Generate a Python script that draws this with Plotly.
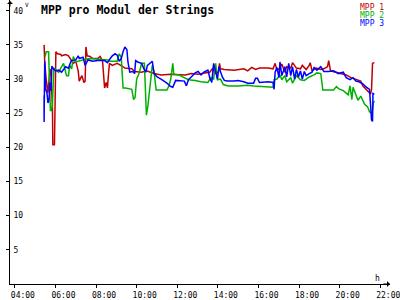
import plotly.graph_objects as go

# ---- data (time in decimal hours, values in V) ----
red_t = [5.44, 5.47, 5.54, 5.63, 5.73, 5.78, 5.85, 5.87, 5.95, 5.97, 6.02, 6.10, 6.26, 6.30, 6.50, 6.64, 6.74, 6.88,
         7.00, 7.12, 7.17, 7.30, 7.40, 7.46, 7.50, 7.56, 7.70, 7.84, 8.08, 8.20, 8.32, 8.38, 8.42, 8.50, 8.56, 8.62,
         8.66, 8.80, 9.04, 9.28, 9.42, 9.76, 9.90, 10.24, 10.48, 10.86, 11.20, 11.68, 12.07, 12.40, 12.69, 13.03,
         13.36, 13.60, 13.75, 13.84, 14.03, 14.08, 14.13, 14.32, 14.80, 15.09, 15.28, 15.47, 15.67, 15.86, 16.05,
         16.48, 16.72, 16.82, 16.91, 17.01, 17.15, 17.30, 17.39, 17.59, 17.68, 17.87, 18.07, 18.16, 18.35, 18.50,
         18.55, 18.64, 18.84, 19.07, 19.22, 19.40, 19.46, 19.55, 19.84, 20.08, 20.32, 20.56, 20.80, 21.04, 21.14,
         21.28, 21.47, 21.52, 21.57, 21.62, 21.71]
red_v = [35.0, 32.6, 30.0, 28.0, 31.5, 30.5, 26.0, 20.4, 20.4, 28.0, 34.0, 33.7, 33.6, 33.4, 33.6, 33.4, 33.0, 32.3,
         32.6, 31.2, 29.7, 30.5, 29.5, 29.7, 34.7, 33.4, 33.3, 33.0, 33.0, 33.3, 32.6, 30.0, 28.7, 29.5, 28.7, 31.0,
         32.3, 32.0, 32.3, 31.9, 31.6, 31.5, 31.1, 31.0, 31.2, 30.8, 30.6, 30.7, 30.7, 30.6, 30.8, 30.7,
         30.9, 31.0, 31.6, 30.8, 31.0, 32.3, 31.5, 31.4, 31.3, 31.4, 31.5, 31.2, 31.7, 31.4, 31.6,
         31.6, 31.5, 32.3, 31.3, 31.5, 32.2, 31.0, 31.8, 31.6, 32.4, 31.6, 31.5, 32.0, 31.4, 32.0,
         32.4, 31.2, 31.6, 31.4, 31.5, 31.8, 32.7, 31.2, 31.0, 30.8, 30.6, 30.2, 29.9, 29.7, 29.0,
         28.6, 28.0, 27.8, 28.5, 32.3, 32.4]

green_t = [5.49, 5.54, 5.66, 5.70, 5.75, 5.80, 5.85, 5.92, 6.02, 6.16, 6.26, 6.40, 6.50, 6.55, 6.64, 6.70, 6.80, 6.88,
           7.00, 7.12, 7.30, 7.46, 7.70, 8.08, 8.56, 8.70, 9.04, 9.14, 9.24, 9.33, 9.45, 9.76, 9.85, 9.92, 10.00,
           10.14, 10.24, 10.38, 10.43, 10.48, 10.55, 10.65, 10.77, 10.86, 10.96, 11.20, 11.49, 11.59, 11.68, 11.78,
           11.83, 12.07, 12.21, 12.55, 12.88, 13.17, 13.51, 13.65, 13.79, 13.89, 13.98, 14.13, 14.27, 14.51, 14.99,
           15.47, 15.76, 16.24, 16.72, 16.77, 16.91, 17.06, 17.15, 17.30, 17.39, 17.59, 17.68, 17.87, 18.07, 18.26,
           18.50, 18.74, 18.88, 19.07, 19.17, 19.31, 19.70, 19.84, 19.94, 20.18, 20.32, 20.42, 20.51, 20.60, 20.66,
           20.80, 20.90, 21.04, 21.14, 21.23, 21.38, 21.47, 21.57, 21.62, 21.66, 21.71]
green_v = [33.3, 34.0, 34.0, 30.0, 25.4, 25.4, 26.3, 31.6, 31.3, 31.0, 31.6, 32.3, 31.0, 30.5, 30.5, 32.0, 31.5, 33.3,
           32.5, 32.6, 32.8, 32.9, 33.0, 32.9, 32.8, 32.6, 32.6, 33.7, 33.2, 28.7, 28.7, 28.5, 27.0, 27.3, 30.0,
           31.0, 32.3, 32.3, 28.0, 24.7, 26.0, 29.0, 32.0, 31.0, 28.4, 28.4, 28.4, 29.0, 30.0, 32.3,
           30.7, 30.6, 30.4, 29.9, 29.8, 29.6, 29.5, 30.2, 30.0, 32.3, 29.9, 30.0, 29.2, 29.0, 29.0,
           29.1, 29.0, 28.9, 28.8, 29.9, 30.0, 30.6, 29.9, 30.5, 29.6, 30.2, 29.4, 30.5, 29.9, 29.8,
           30.3, 30.6, 30.9, 30.8, 28.4, 28.4, 28.4, 28.9, 28.6, 28.3, 28.0, 27.7, 29.0, 27.0, 28.8,
           27.5, 26.9, 27.5, 26.8, 26.3, 25.9, 25.2, 25.0, 25.5, 26.5, 26.8]

blue_t = [5.44, 5.44, 5.47, 5.52, 5.58, 5.63, 5.68, 5.73, 5.78, 5.82, 5.92, 6.02, 6.16, 6.30, 6.40, 6.50, 6.64, 6.78,
          7.00, 7.12, 7.17, 7.36, 7.46, 7.60, 7.84, 8.08, 8.42, 8.56, 8.70, 8.80, 8.94, 9.04, 9.14, 9.24, 9.33,
          9.42, 9.52, 9.57, 9.66, 9.81, 9.90, 9.95, 10.05, 10.24, 10.34, 10.45, 10.53, 10.72, 10.77, 10.86, 11.01,
          11.20, 11.35, 11.49, 11.68, 11.78, 11.92, 12.16, 12.35, 12.45, 12.55, 12.69, 12.88, 13.03, 13.17, 13.31,
          13.51, 13.60, 13.70, 13.79, 13.89, 13.98, 14.05, 14.13, 14.22, 14.32, 14.46, 14.80, 14.99, 15.28, 15.47,
          15.76, 15.86, 15.95, 16.05, 16.48, 16.72, 16.77, 16.82, 16.91, 17.01, 17.06, 17.15, 17.30, 17.39, 17.49,
          17.59, 17.68, 17.78, 17.87, 17.97, 18.07, 18.16, 18.26, 18.35, 18.50, 18.64, 18.74, 18.88, 19.07, 19.22,
          19.46, 19.70, 19.94, 20.18, 20.32, 20.51, 20.66, 20.80, 20.95, 21.14, 21.28, 21.47, 21.52, 21.57, 21.62,
          21.64, 21.71]
blue_v = [27.6, 23.7, 32.6, 28.5, 28.0, 26.5, 26.9, 29.5, 28.3, 31.9, 31.4, 31.2, 31.3, 31.0, 31.4, 31.8, 31.6, 32.7,
          32.8, 33.4, 33.0, 33.2, 32.0, 32.8, 32.6, 32.7, 32.7, 32.4, 33.0, 33.4, 33.7, 33.5, 32.6, 33.0, 34.0,
          34.7, 34.3, 32.5, 31.0, 31.1, 30.8, 32.7, 32.5, 32.3, 31.6, 31.0, 32.0, 32.5, 32.6, 30.8, 30.3,
          30.0, 29.7, 29.4, 28.9, 28.8, 29.8, 29.8, 29.7, 29.0, 29.9, 30.3, 30.9, 31.1, 30.6, 31.0,
          31.3, 30.2, 29.5, 32.3, 30.8, 30.0, 31.8, 31.0, 30.3, 29.8, 29.7, 29.7, 29.8, 29.6, 29.4,
          29.4, 30.1, 30.1, 29.5, 29.6, 29.5, 28.5, 31.0, 31.7, 30.2, 32.5, 30.5, 31.8, 30.3, 32.3,
          30.5, 31.8, 30.0, 31.4, 30.3, 31.2, 30.0, 31.1, 30.5, 30.8, 31.0, 31.7, 31.3, 31.8, 31.1,
          31.1, 31.2, 30.8, 31.0, 30.2, 29.9, 30.2, 29.7, 29.6, 29.3, 28.9, 28.5, 26.3, 24.0, 23.8,
          27.9, 27.8]

x_tick_vals = [4, 6, 8, 10, 12, 14, 16, 18, 20, 22]
x_tick_text = ["04:00", "06:00", "08:00", "10:00", "12:00", "14:00", "16:00", "18:00", "20:00", "22:00"]
y_tick_vals = [5, 10, 15, 20, 25, 30, 35, 40]

series = [("MPP 1", red_t, red_v, "#c00000"),
          ("MPP 2", green_t, green_v, "#00b000"),
          ("MPP 3", blue_t, blue_v, "#0000ff")]

MONO = "DejaVu Sans Mono"

fig = go.Figure()
for name, t, v, c in series:
    fig.add_trace(go.Scatter(x=t, y=v, mode="lines", name=name,
                             line=dict(color=c, width=1.5), showlegend=False))

fig.update_layout(
    width=400, height=300,
    margin=dict(l=10, r=0, t=0, b=9),
    paper_bgcolor="white", plot_bgcolor="white",
    font=dict(family=MONO, size=8, color="black"),
    xaxis=dict(range=[3.76, 22.48], tickvals=x_tick_vals, ticktext=x_tick_text,
               showgrid=False, zeroline=False, showline=True, linecolor="black", linewidth=1,
               ticks="outside", ticklen=3, tickcolor="black",
               ticklabelshift=8, ticklabelstandoff=0, ticklabeloverflow="allow",
               tickfont=dict(family=MONO, size=8, color="black")),
    yaxis=dict(range=[0, 41.57], tickvals=y_tick_vals,
               showgrid=False, zeroline=False, showline=True, linecolor="black", linewidth=1,
               ticks="outside", ticklen=3, tickcolor="black",
               ticklabelposition="inside", ticklabelstandoff=2, ticklabeloverflow="allow",
               tickfont=dict(family=MONO, size=8, color="black")),
)

# title
fig.add_annotation(text="<b>MPP pro Modul der Strings</b>", xref="paper", yref="paper",
                   x=(40 - 10) / 390, y=1 - 1 / 291, xanchor="left", yanchor="top", showarrow=False,
                   font=dict(family=MONO, size=11.5, color="black"))

# legend as coloured text
for i, (name, t, v, c) in enumerate(series):
    fig.add_annotation(text=name, xref="paper", yref="paper",
                       x=1 - 4 / 390, y=1 - (1 + 8 * i) / 291, xanchor="right", yanchor="top",
                       showarrow=False, font=dict(family=MONO, size=8, color=c))

# axis arrows and unit labels
fig.add_annotation(x=0, y=1, xref="paper", yref="paper", ax=0, ay=8, axref="pixel", ayref="pixel",
                   showarrow=True, arrowhead=1, arrowsize=1, arrowwidth=1, arrowcolor="black", text="")
fig.add_annotation(x=1, y=0, xref="paper", yref="paper", ax=-8, ay=0, axref="pixel", ayref="pixel",
                   showarrow=True, arrowhead=1, arrowsize=1, arrowwidth=1, arrowcolor="black", text="")
fig.add_annotation(text="V", xref="paper", yref="paper", x=14 / 390, y=1, xanchor="left",
                   yanchor="top", showarrow=False, font=dict(family=MONO, size=6, color="black"),
                   borderpad=0)
fig.add_annotation(text="h", xref="paper", yref="paper", x=(387 - 10) / 390, y=6 / 291, xanchor="center",
                   yanchor="middle", showarrow=False, font=dict(family=MONO, size=8, color="black"))

fig.write_html("out.html")
